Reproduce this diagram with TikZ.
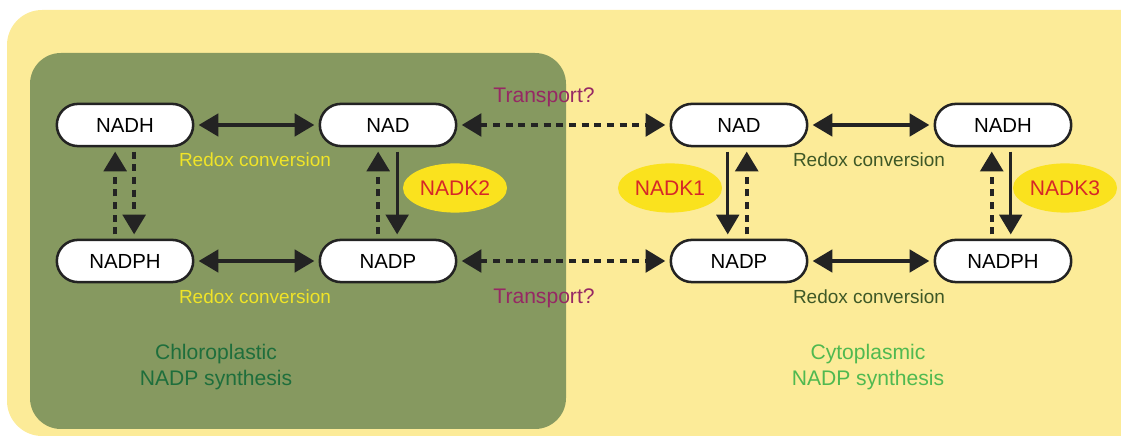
\documentclass[tikz,border=0pt]{standalone}
\usepackage{fontspec}
\setmainfont{Liberation Sans}
\usetikzlibrary{positioning,calc,arrows.meta,shapes.geometric}
\definecolor{cellbg}{RGB}{252,235,152}
\definecolor{plastbg}{RGB}{134,153,96}
\definecolor{enzfill}{RGB}{250,226,30}
\definecolor{enzred}{RGB}{214,40,40}
\definecolor{arrowdark}{RGB}{35,35,35}
\definecolor{redoxyel}{RGB}{240,228,40}
\definecolor{redoxgrn}{RGB}{62,88,38}
\definecolor{transp}{RGB}{150,40,100}
\definecolor{chlgrn}{RGB}{30,110,60}
\definecolor{cytgrn}{RGB}{80,185,80}
\tikzset{
	metab/.style={draw=arrowdark, fill=white, line width=1.8pt, rounded corners=15pt,
		minimum width=97pt, minimum height=30pt, font=\fontsize{14.5}{17}\selectfont},
	enz/.style={ellipse, fill=enzfill, text=enzred, minimum width=74pt, minimum height=35pt,
		inner sep=0pt, font=\fontsize{15}{18}\selectfont},
	conv/.style={line width=2.3pt, draw=arrowdark, shorten <=3pt, shorten >=3pt},
	dashconv/.style={conv, line width=2.8pt, dash pattern=on 5pt off 4pt},
	lbl/.style={font=\fontsize{13.5}{16}\selectfont},
	big/.style={font=\fontsize{15}{18}\selectfont, align=center},
	tip/.tip={Triangle[length=14pt,width=16pt]}
}

\begin{document}
\begin{tikzpicture}[x=0.025cm, y=-0.025cm]
	\clip (0,0) rectangle (1121,438);
	% compartments
	\fill[cellbg, rounded corners=25pt] (7,10) rectangle (1170,436);
	\fill[plastbg, rounded corners=22pt] (30,53) rectangle (566,429);

	% chloroplast
	\node[metab] (nadhL) at (125,125) {NADH};
	\node[metab] (nadL) at (388,125) {NAD};
	\node[metab] (nadphL) at (125,261) {NADPH};
	\node[metab] (nadpL) at (388,261) {NADP};
	\node[enz] (nadk2) at (455,188) {NADK2};

	% cytoplasm
	\node[metab] (nadR) at (739,125) {NAD};
	\node[metab] (nadhR) at (1003,125) {NADH};
	\node[metab] (nadpR) at (739,261) {NADP};
	\node[metab] (nadphR) at (1003,261) {NADPH};
	\node[enz] (nadk1) at (670,188) {NADK1};
	\node[enz] (nadk3) at (1065,188) {NADK3};

	% redox conversions
	\draw[conv, tip-tip] (nadhL) -- (nadL);
	\draw[conv, tip-tip] (nadphL) -- (nadpL);
	\draw[conv, tip-tip] (nadR) -- (nadhR);
	\draw[conv, tip-tip] (nadpR) -- (nadphR);

	% transport
	\draw[dashconv, tip-tip] (nadL) -- (nadR);
	\draw[dashconv, tip-tip] (nadpL) -- (nadpR);

	% vertical steps
	\draw[dashconv, -tip] ([xshift=-7pt]nadphL.north) -- ([xshift=-7pt]nadhL.south);
	\draw[dashconv, -tip] ([xshift=6.5pt]nadhL.south) -- ([xshift=6.5pt]nadphL.north);
	\draw[dashconv, -tip] ([xshift=-7pt]nadpL.north) -- ([xshift=-7pt]nadL.south);
	\draw[conv, -tip] ([xshift=6.5pt]nadL.south) -- ([xshift=6.5pt]nadpL.north);
	\draw[conv, -tip] ([xshift=-8pt]nadR.south) -- ([xshift=-8pt]nadpR.north);
	\draw[dashconv, -tip] ([xshift=5.5pt]nadpR.north) -- ([xshift=5.5pt]nadR.south);
	\draw[dashconv, -tip] ([xshift=-8pt]nadphR.north) -- ([xshift=-8pt]nadhR.south);
	\draw[conv, -tip] ([xshift=5.5pt]nadhR.south) -- ([xshift=5.5pt]nadphR.north);

	% labels
	\node[lbl, text=redoxyel] (redoxL1) at (255,160) {Redox conversion};
	\node[lbl, text=redoxyel] (redoxL2) at (255,297) {Redox conversion};
	\node[lbl, text=redoxgrn] (redoxR1) at (869,160) {Redox conversion};
	\node[lbl, text=redoxgrn] (redoxR2) at (869,297) {Redox conversion};
	\node[big, text=transp] (trans1) at (544,97) {Transport?};
	\node[big, text=transp] (trans2) at (544,298) {Transport?};
	\node[big, text=chlgrn] (chloro) at (216,367) {Chloroplastic\\NADP synthesis};
	\node[big, text=cytgrn] (cyto) at (868,367) {Cytoplasmic\\NADP synthesis};
\end{tikzpicture}
\end{document}
